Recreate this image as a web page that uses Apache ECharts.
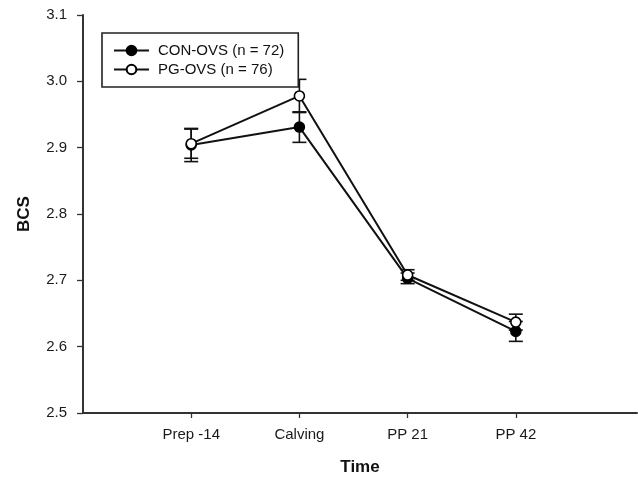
<!DOCTYPE html>
<html>
<head>
<meta charset="utf-8">
<script src="https://cdn.jsdelivr.net/npm/echarts@6/dist/echarts.min.js"></script>
<style>html,body{margin:0;padding:0;background:#fff}#c{width:638px;height:481px}</style>
</head>
<body>
<div id="c"></div>
<script>
const categories = ['Prep -14', 'Calving', 'PP 21', 'PP 42'];
const conName = 'CON-OVS (n = 72)';
const pgName = 'PG-OVS (n = 76)';
const conMean = [2.904, 2.931, 2.703, 2.623];
const conSE = [0.025, 0.023, 0.008, 0.015];
const pgMean = [2.906, 2.978, 2.708, 2.637];
const pgSE = [0.022, 0.025, 0.008, 0.012];
const yTicks = [2.5, 2.6, 2.7, 2.8, 2.9, 3.0, 3.1];

const FONT = 'Liberation Sans, Arial, sans-serif';
const toPts = arr => arr.map((v, i) => [i + 1, v]);
const toErr = (m, s) => m.map((v, i) => [i + 1, v - s[i], v + s[i]]);

function errItem(params, api) {
  const x = api.value(0);
  const lo = api.coord([x, api.value(1)]);
  const hi = api.coord([x, api.value(2)]);
  const hw = 7;
  const st = { stroke: '#111', lineWidth: 1.6 };
  return {
    type: 'group',
    children: [
      { type: 'line', shape: { x1: lo[0], y1: lo[1], x2: hi[0], y2: hi[1] }, style: st },
      { type: 'line', shape: { x1: lo[0] - hw, y1: lo[1], x2: lo[0] + hw, y2: lo[1] }, style: st },
      { type: 'line', shape: { x1: hi[0] - hw, y1: hi[1], x2: hi[0] + hw, y2: hi[1] }, style: st }
    ]
  };
}

const chart = echarts.init(document.getElementById('c'), null, { renderer: 'canvas' });
chart.setOption({
  animation: false,
  backgroundColor: '#fff',
  textStyle: { fontFamily: FONT },
  grid: { left: 83, right: 1, top: 15, bottom: 67, containLabel: false },
  legend: {
    orient: 'vertical',
    left: 102, top: 33,
    padding: [10, 14, 10, 11],
    itemGap: 4,
    itemWidth: 35, itemHeight: 12,
    backgroundColor: '#fff',
    borderColor: '#222', borderWidth: 1.6,
    textStyle: { fontFamily: FONT, fontSize: 15, color: '#111', padding: [0, 0, 0, 4] },
    data: [conName, pgName]
  },
  xAxis: {
    type: 'value', min: 0, max: 5.12,
    splitLine: { show: false },
    axisLine: { lineStyle: { color: '#333', width: 2 } },
    axisTick: { show: true, length: 5, customValues: [1, 2, 3, 4], lineStyle: { color: '#333', width: 1.3 } },
    axisLabel: { customValues: [1, 2, 3, 4], margin: 14, fontSize: 15, color: '#1a1a1a', fontFamily: FONT,
      formatter: v => categories[Math.round(v) - 1] || '' },
    name: 'Time', nameLocation: 'middle', nameGap: 46,
    nameTextStyle: { fontSize: 17, fontWeight: 'bold', color: '#111', fontFamily: FONT }
  },
  yAxis: {
    type: 'value', min: yTicks[0], max: yTicks[yTicks.length - 1], interval: 0.1,
    splitLine: { show: false },
    axisLine: { show: true, lineStyle: { color: '#333', width: 2 } },
    axisTick: { show: true, length: 6, lineStyle: { color: '#333', width: 1.3 } },
    axisLabel: { margin: 16, fontSize: 15, color: '#1a1a1a', fontFamily: FONT, formatter: v => v.toFixed(1) },
    name: 'BCS', nameLocation: 'middle', nameGap: 50,
    nameTextStyle: { fontSize: 17, fontWeight: 'bold', color: '#111', fontFamily: FONT }
  },
  series: [
    { type: 'custom', name: 'conErr', renderItem: errItem, data: toErr(conMean, conSE), z: 1, silent: true },
    { type: 'custom', name: 'pgErr', renderItem: errItem, data: toErr(pgMean, pgSE), z: 1, silent: true },
    {
      type: 'line', name: conName, data: toPts(conMean), z: 3,
      symbol: 'circle', symbolSize: 10,
      lineStyle: { color: '#111', width: 2 },
      itemStyle: { color: '#000', borderColor: '#000', borderWidth: 1.5 }
    },
    {
      type: 'line', name: pgName, data: toPts(pgMean), z: 4,
      symbol: 'circle', symbolSize: 10,
      lineStyle: { color: '#111', width: 2 },
      itemStyle: { color: '#fff', borderColor: '#000', borderWidth: 1.6 }
    }
  ]
});
</script>
</body>
</html>
